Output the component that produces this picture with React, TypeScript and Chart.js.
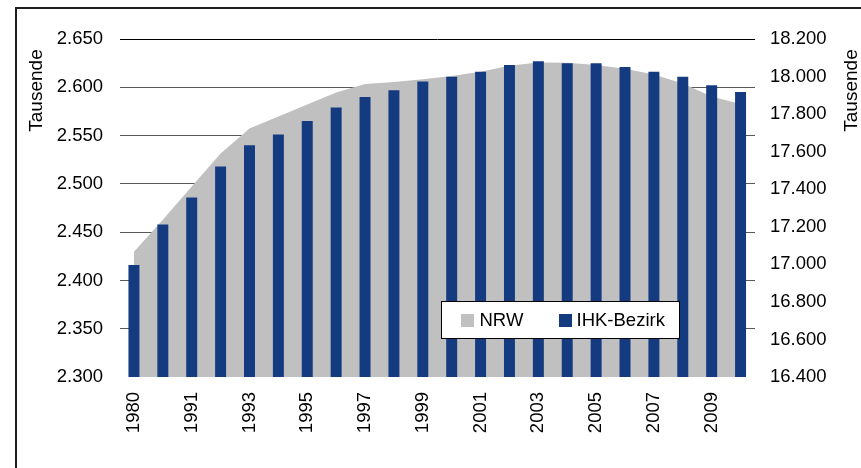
import React, { useEffect, useRef } from 'react';
import { Chart, registerables } from 'chart.js';

Chart.register(...registerables);

const categories = [
  '1980', '1990', '1991', '1992', '1993', '1994', '1995', '1996', '1997', '1998', '1999',
  '2000', '2001', '2002', '2003', '2004', '2005', '2006', '2007', '2008', '2009', '2010',
];

const seriesNames = ['NRW', 'IHK-Bezirk'];

// IHK-Bezirk (left axis, Tausende)
const ihkValues = [
  2416, 2458, 2486, 2518, 2540, 2551, 2565, 2579, 2590, 2597, 2606,
  2611, 2616, 2623, 2627, 2625, 2625, 2621, 2616, 2611, 2602, 2595,
];

// NRW (right axis, Tausende)
const nrwValues = [
  17067, 17238, 17414, 17590, 17723, 17787, 17851, 17915, 17960, 17971, 17985,
  18003, 18025, 18057, 18075, 18073, 18062, 18041, 18011, 17963, 17894, 17854,
];

const leftTickValues = [2300, 2350, 2400, 2450, 2500, 2550, 2600, 2650];
const rightTickValues = [16400, 16600, 16800, 17000, 17200, 17400, 17600, 17800, 18000, 18200];

const axisTitle = 'Tausende';

const FONT = '"Liberation Sans", Arial, sans-serif';
const BLUE = '#143A80';
const GREY = '#C0C0C0';

const fmt = (v: number) =>
  Math.round(v).toString().replace(/\B(?=(\d{3})+(?!\d))/g, '.');

const overlayPlugin = {
  id: 'overlay',
  afterDraw(chart: any) {
    const ctx = chart.ctx as CanvasRenderingContext2D;
    ctx.save();
    ctx.fillStyle = '#000';
    ctx.font = `19px ${FONT}`;
    ctx.textAlign = 'center';
    ctx.textBaseline = 'alphabetic';
    // left title
    ctx.save();
    ctx.translate(41.5, 90.5);
    ctx.rotate(-Math.PI / 2);
    ctx.fillText(axisTitle, 0, 0);
    ctx.restore();
    // right title
    ctx.save();
    ctx.translate(856.5, 90.5);
    ctx.rotate(-Math.PI / 2);
    ctx.fillText(axisTitle, 0, 0);
    ctx.restore();

    // legend
    const bx = 441.5, by = 301.5, bw = 238, bh = 37;
    ctx.fillStyle = '#fff';
    ctx.fillRect(bx, by, bw, bh);
    ctx.strokeStyle = '#000';
    ctx.lineWidth = 1;
    ctx.strokeRect(bx, by, bw, bh);
    const items = [
      { sx: 461, tx: 479.5 },
      { sx: 559, tx: 576.5 },
    ];
    ctx.font = `18.5px ${FONT}`;
    ctx.textAlign = 'left';
    ctx.textBaseline = 'middle';
    chart.data.datasets.forEach((ds: any, i: number) => {
      const it = items[i];
      ctx.fillStyle = ds.backgroundColor;
      ctx.fillRect(it.sx, 314, 13, 13);
      ctx.fillStyle = '#000';
      ctx.fillText(ds.label, it.tx, 321);
    });
    ctx.restore();
  },
};

export default function App() {
  const canvasRef = useRef<HTMLCanvasElement | null>(null);

  useEffect(() => {
    if (!canvasRef.current) return;
    const chart = new Chart(canvasRef.current, {
      type: 'bar',
      data: {
        labels: categories,
        datasets: [
          {
            type: 'line',
            label: seriesNames[0],
            data: nrwValues,
            yAxisID: 'y1',
            backgroundColor: GREY,
            borderColor: GREY,
            borderWidth: 0,
            pointRadius: 0,
            tension: 0,
            fill: 'start',
            order: 1,
          } as any,
          {
            type: 'bar',
            label: seriesNames[1],
            data: ihkValues,
            yAxisID: 'y',
            backgroundColor: BLUE,
            borderWidth: 0,
            categoryPercentage: 1,
            barPercentage: 0.38,
            order: 0,
          } as any,
        ],
      },
      options: {
        responsive: false,
        animation: false,
        devicePixelRatio: 1,
        layout: { padding: { top: 39, left: 0, right: 0, bottom: 0 } },
        plugins: {
          legend: { display: false },
          tooltip: { enabled: false },
          title: { display: false },
        },
        scales: {
          x: {
            offset: true,
            grid: { display: false, drawTicks: false },
            border: { display: false },
            ticks: {
              autoSkip: false,
              maxRotation: 90,
              minRotation: 90,
              padding: 15,
              color: '#000',
              font: { family: FONT, size: 18.5 },
              callback: function (this: any, val: any, index: number) {
                return index % 2 === 0 ? categories[index] : '';
              },
            },
            afterFit: (scale: any) => {
              scale.height = 91;
            },
          },
          y: {
            position: 'left',
            min: 2300,
            max: 2650,
            afterBuildTicks: (scale: any) => {
              scale.ticks = leftTickValues.map((v) => ({ value: v }));
            },
            grid: {
              drawTicks: false,
              lineWidth: 1,
              color: (c: any) => {
                const v = c.tick ? c.tick.value : 0;
                if (v === 2650) return '#000';
                if (v === 2300) return 'rgba(0,0,0,0)';
                return '#5a5a5a';
              },
            },
            border: { display: false },
            ticks: {
              padding: 16.5,
              color: '#000',
              font: { family: FONT, size: 18.5 },
              callback: (v: any) => fmt(Number(v)),
            },
            afterFit: (scale: any) => {
              scale.width = 119.5;
            },
          },
          y1: {
            position: 'right',
            min: 16400,
            max: 18200,
            afterBuildTicks: (scale: any) => {
              scale.ticks = rightTickValues.map((v) => ({ value: v }));
            },
            grid: { display: false, drawTicks: false },
            border: { display: false },
            ticks: {
              padding: 15,
              color: '#000',
              font: { family: FONT, size: 18.5 },
              callback: (v: any) => fmt(Number(v)),
            },
            afterFit: (scale: any) => {
              scale.width = 106;
            },
          },
        },
      },
      plugins: [overlayPlugin],
    });
    return () => chart.destroy();
  }, []);

  return (
    <div
      style={{
        position: 'fixed',
        left: 0,
        top: 0,
        width: 861,
        height: 468,
        overflow: 'hidden',
        background: '#fff',
      }}
    >
      <canvas
        ref={canvasRef}
        width={861}
        height={468}
        style={{ position: 'absolute', left: 0, top: 0, display: 'block' }}
      />
      <div
        style={{
          position: 'absolute',
          left: 15,
          top: 7,
          width: 1000,
          height: 1000,
          borderTop: '2px solid #1e1e1e',
          borderLeft: '2px solid #1e1e1e',
          pointerEvents: 'none',
        }}
      />
    </div>
  );
}
